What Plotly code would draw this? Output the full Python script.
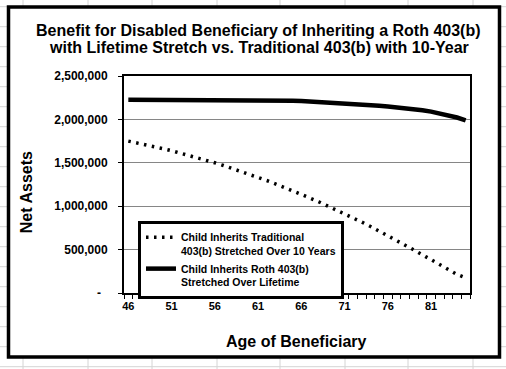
import plotly.graph_objects as go

# ---------------- data ----------------
ages = list(range(46, 86))
traditional = [1750000, 1730000, 1709000, 1687000, 1663000, 1639000, 1613000, 1587000,
               1559000, 1530000, 1500000, 1469000, 1436000, 1403000, 1369000, 1333000,
               1296000, 1258000, 1219000, 1178000, 1137000, 1094000, 1051000, 1006000,
               960000, 913000, 865000, 816000, 766000, 714000, 662000, 608000,
               553000, 497000, 440000, 382000, 323000, 264000, 214000, 175000]
roth = [2225000] * 18 + [2220000, 2216000, 2212000, 2207000, 2202000, 2197000, 2192000,
                         2186000, 2180000, 2173000, 2165000, 2157000, 2148000, 2139000,
                         2130000, 2120000, 2106000, 2090000, 2071000, 2049000, 2022000,
                         1990000]
y_tick_vals = [0, 500000, 1000000, 1500000, 2000000, 2500000]
y_tick_text = ["-\u00a0\u00a0", "500,000", "1,000,000", "1,500,000", "2,000,000", "2,500,000"]
x_tick_vals = [46, 51, 56, 61, 66, 71, 76, 81]
x_tick_text = [str(v) for v in x_tick_vals]

name_trad = "Child Inherits Traditional<br>403(b) Stretched Over 10 Years"
name_roth = "Child Inherits Roth 403(b)<br>Stretched Over Lifetime"
title_lines = ["Benefit for Disabled Beneficiary of Inheriting a Roth 403(b)",
               "with Lifetime Stretch vs. Traditional 403(b) with 10-Year"]

# ---------------- layout helpers (pixel -> paper) ----------------
W, H = 506, 369
L, R, T, B = 124, 470, 76, 293


def px(x):
    return (x - L) / (R - L)


def py(y):
    return (B - y) / (B - T)


FONT = "Liberation Sans, Arial, sans-serif"

fig = go.Figure()
fig.add_trace(go.Scatter(x=ages, y=traditional, mode="lines", name=name_trad,
                         legendgroup="a",
                         line=dict(color="black", width=3.5, dash="2.5px,5.5px")))
fig.add_trace(go.Scatter(x=ages, y=roth, mode="lines", name=name_roth,
                         legendgroup="b",
                         line=dict(color="black", width=4.5)))

# spreadsheet background grid + chart border
shapes = []
grid_col = "#d4d4d4"
for cx in [23, 88, 152, 217, 280, 345, 408, 473]:
    shapes.append(dict(type="line", xref="paper", yref="paper", layer="below",
                       x0=px(cx), x1=px(cx), y0=py(-5), y1=py(375),
                       line=dict(color=grid_col, width=1)))
for k in range(-1, 20):
    ry = 6.7 + 20 * k
    shapes.append(dict(type="line", xref="paper", yref="paper", layer="below",
                       x0=px(-5), x1=px(515), y0=py(ry), y1=py(ry),
                       line=dict(color=grid_col, width=1)))
shapes.append(dict(type="rect", xref="paper", yref="paper", layer="below",
                   x0=px(8.5), x1=px(499.5), y0=py(357), y1=py(7),
                   fillcolor="white", line=dict(color="black", width=3.5)))

annotations = [
    dict(text=title_lines[0], xref="paper", yref="paper", x=px(258.5), y=py(31),
         xanchor="center", yanchor="middle", showarrow=False,
         font=dict(family=FONT, size=16, color="black", weight="bold")),
    dict(text=title_lines[1], xref="paper", yref="paper", x=px(259), y=py(47.7),
         xanchor="center", yanchor="middle", showarrow=False,
         font=dict(family=FONT, size=16, color="black", weight="bold")),
    dict(text="Net Assets", xref="paper", yref="paper", x=px(26.7), y=py(192.5),
         xanchor="center", yanchor="middle", textangle=-90, showarrow=False,
         font=dict(family=FONT, size=16, color="black", weight="bold")),
    dict(text="Age of Beneficiary", xref="paper", yref="paper", x=px(296), y=py(341.7),
         xanchor="center", yanchor="middle", showarrow=False,
         font=dict(family=FONT, size=16, color="black", weight="bold")),
]

fig.update_layout(
    width=W, height=H,
    margin=dict(l=L, r=W - R, t=T, b=H - B, pad=0),
    paper_bgcolor="white", plot_bgcolor="white",
    font=dict(family=FONT, color="black"),
    shapes=shapes, annotations=annotations,
    showlegend=True,
    legend=dict(x=px(138), y=py(221), xanchor="left", yanchor="top",
                bgcolor="white", bordercolor="black", borderwidth=3,
                font=dict(family=FONT, size=10.5, color="black", weight="bold"),
                valign="top", traceorder="grouped", tracegroupgap=1,
                itemwidth=30),
    xaxis=dict(range=[45.5, 85.5], tickmode="array", tickvals=x_tick_vals,
               ticktext=x_tick_text, ticks="outside", ticklen=4,
               tickcolor="rgba(0,0,0,0)", ticklabelstandoff=-2,
               showline=True, linecolor="black", linewidth=2, mirror=True,
               showgrid=False, zeroline=False,
               tickfont=dict(family=FONT, size=11, color="black", weight="bold"),
               minor=dict(ticks="outside", tick0=45.5, dtick=1, ticklen=4,
                          tickcolor="black", tickwidth=1, showgrid=False)),
    yaxis=dict(range=[0, 2500000], tickmode="array", tickvals=y_tick_vals,
               ticktext=y_tick_text, ticks="outside", ticklen=4,
               tickcolor="black", ticklabelstandoff=8,
               showline=True, linecolor="black", linewidth=2, mirror=True,
               showgrid=True, gridcolor="#868686", gridwidth=1, zeroline=False,
               tickfont=dict(family=FONT, size=12, color="black", weight="bold")),
)

fig.write_html("out.html", config={"displayModeBar": False},
               post_script="document.body.style.margin='0px';document.body.style.overflow='hidden';")
